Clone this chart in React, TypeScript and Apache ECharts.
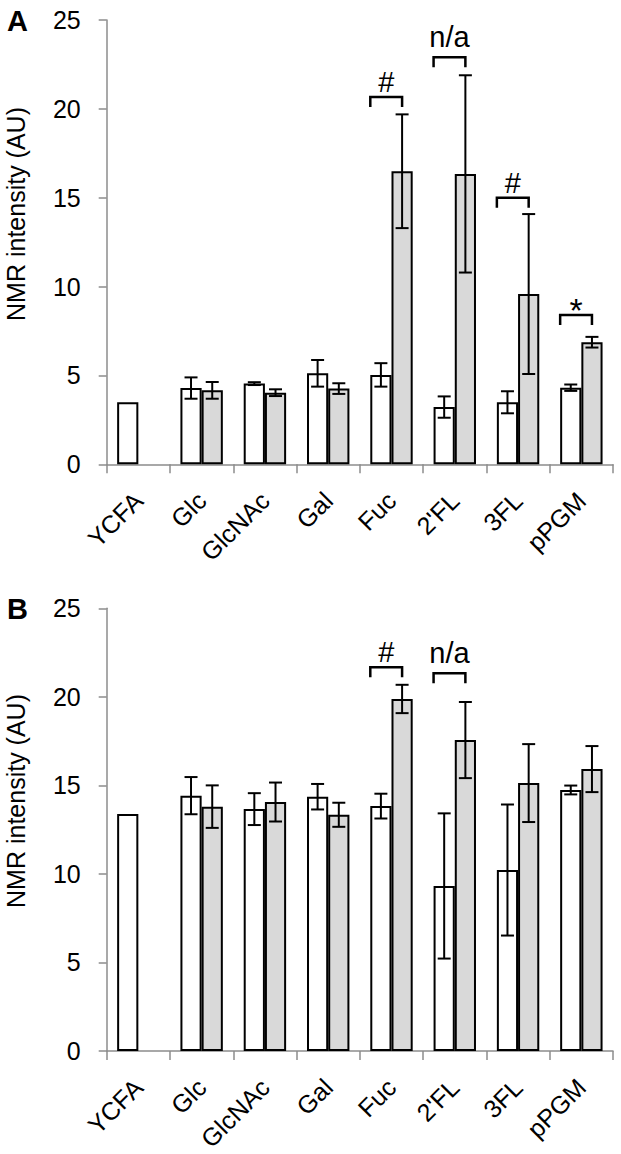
import React, { useEffect, useRef } from "react";
import * as echarts from "echarts";

const categories = ["YCFA", "Glc", "GlcNAc", "Gal", "Fuc", "2'FL", "3FL", "pPGM"];
const yTicks = [0, 5, 10, 15, 20, 25];

// Panel A
const aWhite = [3.49, 4.29, 4.54, 5.12, 5.03, 3.22, 3.49, 4.31];
const aWhiteErr = [null, 0.6, 0.08, 0.75, 0.66, 0.6, 0.62, 0.18];
const aGray = [null, 4.16, 4.03, 4.26, 16.49, 16.34, 9.58, 6.87];
const aGrayErr = [null, 0.47, 0.19, 0.3, 3.2, 5.55, 4.5, 0.3];
const aNotes = [
  { cat: "Fuc", y: 20.67, text: "#" },
  { cat: "2'FL", y: 22.9, text: "n/a" },
  { cat: "3FL", y: 15.0, text: "#" },
  { cat: "pPGM", y: 8.4, text: "*" },
];

// Panel B
const bWhite = [13.38, 14.42, 13.66, 14.36, 13.83, 9.32, 10.22, 14.74];
const bWhiteErr = [null, 1.05, 0.9, 0.72, 0.7, 4.1, 3.7, 0.25];
const bGray = [null, 13.8, 14.06, 13.34, 19.88, 17.56, 15.13, 15.92];
const bGrayErr = [null, 1.2, 1.1, 0.68, 0.8, 2.15, 2.2, 1.3];
const bNotes = [
  { cat: "Fuc", y: 21.67, text: "#" },
  { cat: "2'FL", y: 21.33, text: "n/a" },
];

const FONT = "Liberation Sans, Arial, sans-serif";
const LABEL_FONT = `25px ${FONT}`;
const CAT_GAP = 0.33;
const AXIS_COLOR = "#8c8c8c";
const X_LABEL_MARGIN = 32;
const ANGLE = Math.PI / 4;
const noteStyle: Record<string, { size: number; dy: number }> = {
  "#": { size: 29, dy: -15 },
  "n/a": { size: 29, dy: -20.5 },
  "*": { size: 34, dy: -5 },
};

function barWidthPx(api: any) {
  const band = api.size([1, 0])[0];
  return (band * (1 - CAT_GAP)) / 2;
}

function errRender(side: number) {
  return (params: any, api: any) => {
    const i = api.value(0);
    const m = api.value(1);
    const e = api.value(2);
    const bw = barWidthPx(api);
    const cx = api.coord([i, m])[0] + (side * bw) / 2;
    const yT = api.coord([i, m + e])[1];
    const yB = api.coord([i, m - e])[1];
    const cap = 6.5;
    const st = { stroke: "#000", lineWidth: 2 };
    return {
      type: "group",
      children: [
        { type: "line", shape: { x1: cx, y1: yT, x2: cx, y2: yB }, style: st },
        { type: "line", shape: { x1: cx - cap, y1: yT, x2: cx + cap, y2: yT }, style: st },
        { type: "line", shape: { x1: cx - cap, y1: yB, x2: cx + cap, y2: yB }, style: st },
      ],
    };
  };
}

function noteRender(notes: { text: string }[]) {
  return (params: any, api: any) => {
    const i = api.value(0);
    const v = api.value(1);
    const text = notes[params.dataIndex].text;
    const bw = barWidthPx(api);
    const [cx, y] = api.coord([i, v]);
    const left = cx - bw;
    const right = cx + bw / 2;
    const leg = 10;
    const ns = noteStyle[text];
    return {
      type: "group",
      children: [
        {
          type: "polyline",
          shape: { points: [[left, y + leg], [left, y], [right, y], [right, y + leg]] },
          style: { stroke: "#000", lineWidth: 2.5, fill: "none" },
        },
        {
          type: "text",
          x: (left + right) / 2,
          y: y + ns.dy,
          style: {
            text,
            fill: "#000",
            font: `${ns.size}px ${FONT}`,
            align: "center",
            verticalAlign: "middle",
            textAlign: "center",
            textVerticalAlign: "middle",
          },
        },
      ],
    };
  };
}

function toBar(arr: (number | null)[]) {
  return arr.map((v) => (v == null ? "-" : v));
}
function toErr(means: (number | null)[], errs: (number | null)[]) {
  const out: number[][] = [];
  means.forEach((m, i) => {
    const e = errs[i];
    if (m != null && e != null) out.push([i, m, e]);
  });
  return out;
}
function toNotes(notes: { cat: string; y: number }[]) {
  return notes.map((n) => [categories.indexOf(n.cat), n.y]);
}

function panelSeries(idx: number, white: any[], wErr: any[], gray: any[], gErr: any[], notes: any[]) {
  return [
    {
      type: "bar",
      xAxisIndex: idx,
      yAxisIndex: idx,
      data: toBar(white),
      barGap: "0%",
      barCategoryGap: `${CAT_GAP * 100}%`,
      itemStyle: { color: "#ffffff", borderColor: "#000", borderWidth: 2 },
    },
    {
      type: "bar",
      xAxisIndex: idx,
      yAxisIndex: idx,
      data: toBar(gray),
      barGap: "0%",
      barCategoryGap: `${CAT_GAP * 100}%`,
      itemStyle: { color: "#d9d9d9", borderColor: "#000", borderWidth: 2 },
    },
    {
      type: "custom",
      xAxisIndex: idx,
      yAxisIndex: idx,
      z: 5,
      encode: { x: 0, y: 1 },
      data: toErr(white, wErr),
      renderItem: errRender(-1),
    },
    {
      type: "custom",
      xAxisIndex: idx,
      yAxisIndex: idx,
      z: 5,
      encode: { x: 0, y: 1 },
      data: toErr(gray, gErr),
      renderItem: errRender(1),
    },
    {
      type: "custom",
      xAxisIndex: idx,
      yAxisIndex: idx,
      z: 5,
      clip: false,
      encode: { x: 0, y: 1 },
      data: toNotes(notes),
      renderItem: noteRender(notes),
    },
  ];
}

function xAxis(idx: number) {
  return {
    type: "category",
    gridIndex: idx,
    data: categories,
    axisLine: { lineStyle: { color: AXIS_COLOR, width: 1.5 } },
    axisTick: { show: true, length: 9, lineStyle: { color: AXIS_COLOR, width: 1.5 } },
    axisLabel: { show: false },
  };
}

function yAxis(idx: number) {
  return {
    type: "value",
    gridIndex: idx,
    min: yTicks[0],
    max: yTicks[yTicks.length - 1],
    interval: yTicks[1] - yTicks[0],
    splitLine: { show: false },
    axisLine: { show: true, lineStyle: { color: AXIS_COLOR, width: 1.5 } },
    axisTick: { show: true, length: 8, lineStyle: { color: AXIS_COLOR, width: 1.5 } },
    axisLabel: { color: "#000", fontSize: 25, fontFamily: FONT, margin: 26 },
  };
}

export default function App() {
  const ref = useRef<HTMLDivElement>(null);
  useEffect(() => {
    if (!ref.current) return;
    const chart = echarts.init(ref.current, null, { renderer: "svg" });
    chart.setOption({
      animation: false,
      backgroundColor: "#fff",
      grid: [
        { left: 106.7, right: 8, top: 20, height: 444.3 },
        { left: 106.7, right: 8, top: 608.3, height: 442.7 },
      ],
      xAxis: [xAxis(0), xAxis(1)],
      yAxis: [yAxis(0), yAxis(1)],
      series: [
        ...panelSeries(0, aWhite, aWhiteErr, aGray, aGrayErr, aNotes),
        ...panelSeries(1, bWhite, bWhiteErr, bGray, bGrayErr, bNotes),
      ],
    });

    const ctx = document.createElement("canvas").getContext("2d")!;
    ctx.font = LABEL_FONT;

    const yLabel = (y: number) => ({
      type: "text",
      x: 16,
      y,
      rotation: Math.PI / 2,
      style: {
        text: "NMR intensity (AU)",
        fill: "#000",
        font: `25px ${FONT}`,
        align: "center",
        verticalAlign: "middle",
        textAlign: "center",
        textVerticalAlign: "middle",
      },
    });
    const panelLabel = (t: string, y: number) => ({
      type: "text",
      x: 7,
      y,
      style: {
        text: t,
        fill: "#000",
        font: `bold 29px ${FONT}`,
        align: "left",
        verticalAlign: "middle",
        textAlign: "left",
        textVerticalAlign: "middle",
      },
    });
    const xLabels: any[] = [];
    [0, 1].forEach((ax) => {
      const y0 = chart.convertToPixel({ yAxisIndex: ax } as any, yTicks[0]) as number;
      categories.forEach((c, i) => {
        const x = chart.convertToPixel({ xAxisIndex: ax } as any, i) as number;
        const half = ctx.measureText(c).width / 2;
        // centre of the slanted label, so its right end sits at the category centre
        xLabels.push({
          type: "text",
          x: x - Math.cos(ANGLE) * half,
          y: y0 + X_LABEL_MARGIN + Math.sin(ANGLE) * half,
          rotation: ANGLE,
          style: {
            text: c,
            fill: "#000",
            font: LABEL_FONT,
            align: "center",
            verticalAlign: "middle",
            textAlign: "center",
            textVerticalAlign: "middle",
          },
        });
      });
    });
    chart.setOption({
      graphic: [yLabel(214), yLabel(801), panelLabel("A", 21), panelLabel("B", 609), ...xLabels],
    });
    return () => chart.dispose();
  }, []);
  return (
    <div
      ref={ref}
      style={{ position: "absolute", left: 0, top: 0, width: 621, height: 1154, background: "#fff" }}
    />
  );
}
